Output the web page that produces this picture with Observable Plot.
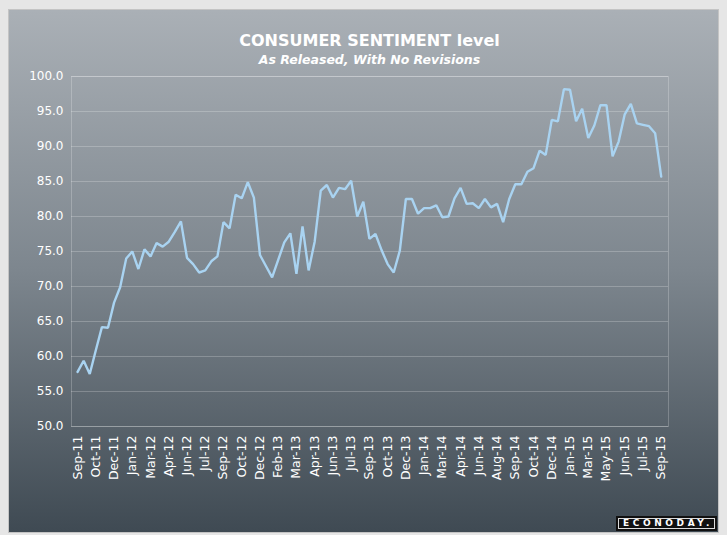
<!DOCTYPE html>
<html><head><meta charset="utf-8">
<script src="https://cdn.jsdelivr.net/npm/d3@7"></script>
<script src="https://cdn.jsdelivr.net/npm/@observablehq/plot@0.6"></script>
<style>
html,body{margin:0;padding:0;background:#e6e6e6;}
#page{position:relative;width:727px;height:535px;overflow:hidden;font-family:"DejaVu Sans",Verdana,sans-serif;}
#panel{position:absolute;left:8px;top:9px;width:709px;height:522px;border:1px solid #c4c4c4;background:linear-gradient(#aab0b6,#7d868e 50%,#3f4a53);}
#title{position:absolute;left:0;width:739px;top:31px;text-align:center;color:#fff;font-weight:bold;font-size:16px;line-height:20px;}
#subtitle{position:absolute;left:0;width:739px;top:52px;text-align:center;color:#fff;font-weight:bold;font-style:italic;font-size:12.5px;line-height:16px;}
#chart{position:absolute;left:0;top:71px;}
#logo{position:absolute;left:616px;top:516px;width:101px;height:15px;background:#111;box-sizing:border-box;}
#logo span{position:absolute;left:2px;top:2px;right:2px;bottom:2px;border:1px solid #ddd;color:#fff;font-family:"DejaVu Sans",sans-serif;font-size:9px;font-weight:bold;letter-spacing:3.6px;line-height:9px;text-align:center;padding-left:3px;white-space:nowrap;}
</style></head>
<body>
<div id="page">
  <div id="panel"></div>
  <div id="title">CONSUMER SENTIMENT level</div>
  <div id="subtitle">As Released, With No Revisions</div>
  <div id="chart"></div>
  <div id="logo"><span>ECONODAY.</span></div>
</div>
<script>
// Consumer sentiment, preliminary and final releases, Sep-11 .. Sep-15
const values = [
  57.8, 59.4, 57.5, 60.9, 64.2, 64.1, 67.7, 69.9, 74.0, 75.0,
  72.5, 75.3, 74.3, 76.2, 75.7, 76.4, 77.8, 79.3, 74.1, 73.2,
  72.0, 72.3, 73.6, 74.3, 79.2, 78.3, 83.1, 82.6, 84.9, 82.7,
  74.5, 72.9, 71.3, 73.8, 76.3, 77.6, 71.8, 78.6, 72.3, 76.4,
  83.7, 84.5, 82.7, 84.1, 83.9, 85.1, 80.0, 82.1, 76.8, 77.5,
  75.2, 73.2, 72.0, 75.1, 82.5, 82.5, 80.4, 81.2, 81.2, 81.6,
  79.9, 80.0, 82.6, 84.1, 81.8, 81.9, 81.2, 82.5, 81.3, 81.8,
  79.2, 82.5, 84.6, 84.6, 86.4, 86.9, 89.4, 88.8, 93.8, 93.6,
  98.2, 98.1, 93.6, 95.4, 91.2, 93.0, 95.9, 95.9, 88.6, 90.7,
  94.6, 96.1, 93.3, 93.1, 92.9, 91.9, 85.7
];
// Axis labels, one for every third release
const tickLabels = [
  "Sep-11","Oct-11","Dec-11","Jan-12","Mar-12","Apr-12","Jun-12","Jul-12",
  "Sep-12","Oct-12","Dec-12","Feb-13","Mar-13","Apr-13","Jun-13","Jul-13",
  "Sep-13","Oct-13","Dec-13","Jan-14","Mar-14","Apr-14","Jun-14","Aug-14",
  "Sep-14","Oct-14","Dec-14","Jan-15","Mar-15","May-15","Jun-15","Jul-15","Sep-15"
];
const yTicks = [50, 55, 60, 65, 70, 75, 80, 85, 90, 95, 100];

const xTickIdx = tickLabels.map((_, k) => k * 3);

const chart = Plot.plot({
  width: 727,
  height: 464,
  marginLeft: 71,
  marginRight: 59,
  marginTop: 5,
  marginBottom: 109,
  style: {background: "transparent", color: "#fff", fontFamily: "DejaVu Sans, Verdana, sans-serif", fontSize: "12px", overflow: "visible"},
  x: {domain: [-1, 97.2]},
  y: {domain: [50, 100]},
  marks: [
    Plot.gridY(yTicks, {stroke: "#fff", strokeOpacity: 0.22, strokeWidth: 1}),
    Plot.frame({stroke: "#fff", strokeOpacity: 0.22}),
    Plot.axisY(yTicks, {tickSize: 0, tickPadding: 8, tickFormat: d => d.toFixed(1), fill: "#fff", label: null, fontSize: 12}),
    Plot.axisX(xTickIdx, {tickSize: 0, tickPadding: 9, tickRotate: -90, tickFormat: i => tickLabels[i / 3], fill: "#fff", label: null, fontSize: 12.5}),
    Plot.lineY(values, {x: (d, i) => i, y: d => d, stroke: "#a9d3f1", strokeWidth: 2.4, strokeLinejoin: "miter"})
  ]
});
document.getElementById("chart").appendChild(chart);
</script>
</body></html>
